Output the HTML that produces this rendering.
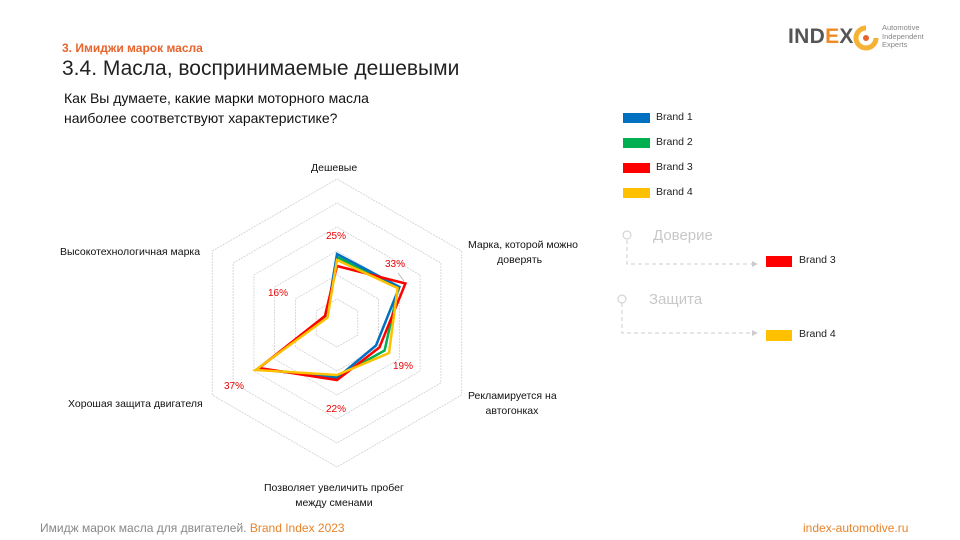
<!DOCTYPE html>
<html><head><meta charset="utf-8"><style>
body{margin:0;width:960px;height:540px;background:#fff;font-family:"Liberation Sans","DejaVu Sans",sans-serif;position:relative;overflow:hidden}
.a{position:absolute;white-space:nowrap}
.l{font-size:10.5px;color:#111}
</style></head><body>
<div class="a" style="left:62px;top:41px;font-size:12px;color:#e8642c;font-weight:bold">3. Имиджи марок масла</div>
<div class="a" style="left:62px;top:57px;font-size:21px;color:#222">3.4. Масла, воспринимаемые дешевыми</div>
<div class="a" style="left:64px;top:88px;font-size:14px;color:#111;line-height:20px">Как Вы думаете, какие марки моторного масла<br>наиболее соответствуют характеристике?</div>
<div class="a" style="left:788px;top:25px;font-size:21px;font-weight:bold;color:#555;letter-spacing:0.3px">IND<span style="color:#f08a24">E</span>X</div>
<svg class="a" style="left:853px;top:25px" width="26" height="26" viewBox="0 0 26 26"><path d="M13 3 A10 10 0 1 0 23 13" fill="none" stroke="#f5b335" stroke-width="5"/><circle cx="13" cy="13" r="3" fill="#e8642c"/></svg>
<div class="a" style="left:882px;top:24px;font-size:7.5px;color:#888;line-height:8.5px">Automotive<br>Independent<br>Experts</div>

<svg class="a" style="left:0;top:0" width="960" height="540">
<g transform="translate(337,323)" fill="none" stroke="#d0d0d0" stroke-width="0.8" stroke-dasharray="2,1">
<polygon points="0,-24 20.8,-12 20.8,12 0,24 -20.8,12 -20.8,-12"/>
<polygon points="0,-48 41.6,-24 41.6,24 0,48 -41.6,24 -41.6,-24"/>
<polygon points="0,-72 62.4,-36 62.4,36 0,72 -62.4,36 -62.4,-36"/>
<polygon points="0,-96 83.1,-48 83.1,48 0,96 -83.1,48 -83.1,-48"/>
<polygon points="0,-120 103.9,-60 103.9,60 0,120 -103.9,60 -103.9,-60"/>
<polygon points="0,-144 124.7,-72 124.7,72 0,144 -124.7,72 -124.7,-72"/>
</g>
<g fill="none" stroke-width="2.5" stroke-linejoin="miter">
<polygon stroke="#00b050" points="337,257 398.5,287.5 384.6,350.5 337,377 257.3,369 326.6,317"/>
<polygon stroke="#0070c0" points="337,254 399.4,287 376,345.5 337,378 257.3,369 326.6,317"/>
<polygon stroke="#ff0000" points="337,266 405.4,283.5 379.4,347.5 337,380 259,368 324.9,316"/>
<polygon stroke="#ffc000" points="337,260 397.6,288 389,353 337,375 255.6,370 327.5,317.5"/>
</g>
<line x1="398" y1="273" x2="404" y2="281" stroke="#aaa" stroke-width="0.7"/>
<g fill="none" stroke="#ccc" stroke-dasharray="4,3"><path d="M627 240 V264 H752"/><path d="M622 303 V333 H752"/></g>
<circle cx="627" cy="235" r="4" fill="#fff" stroke="#ccc"/><circle cx="622" cy="299" r="4" fill="#fff" stroke="#ccc"/>
<polygon points="752,261 758,264 752,267" fill="#ccc"/><polygon points="752,330 758,333 752,336" fill="#ccc"/>
</svg>
<div class="a" style="left:326px;top:231px;font-size:10px;color:#e00">25%</div>
<div class="a" style="left:385px;top:259px;font-size:10px;color:#e00">33%</div>
<div class="a" style="left:393px;top:361px;font-size:10px;color:#e00">19%</div>
<div class="a" style="left:326px;top:404px;font-size:10px;color:#e00">22%</div>
<div class="a" style="left:224px;top:381px;font-size:10px;color:#e00">37%</div>
<div class="a" style="left:268px;top:288px;font-size:10px;color:#e00">16%</div>

<div class="a l" style="left:311px;top:162px">Дешевые</div>
<div class="a l" style="left:468px;top:238px;line-height:15px">Марка, которой можно<br>&nbsp; &nbsp; &nbsp; &nbsp; &nbsp; доверять</div>
<div class="a l" style="left:468px;top:389px;line-height:15px">Рекламируется на<br>&nbsp; &nbsp; &nbsp; автогонках</div>
<div class="a l" style="left:264px;top:481px;line-height:15px;text-align:center">Позволяет увеличить пробег<br>между сменами</div>
<div class="a l" style="left:68px;top:398px">Хорошая защита двигателя</div>
<div class="a l" style="left:60px;top:246px">Высокотехнологичная марка</div>

<div class="a" style="left:623px;top:113px;width:27px;height:10px;background:#0070c0"></div><div class="a" style="left:656px;top:111px;font-size:10.5px;color:#222">Brand 1</div>
<div class="a" style="left:623px;top:138px;width:27px;height:10px;background:#00b050"></div><div class="a" style="left:656px;top:136px;font-size:10.5px;color:#222">Brand 2</div>
<div class="a" style="left:623px;top:163px;width:27px;height:10px;background:#ff0000"></div><div class="a" style="left:656px;top:161px;font-size:10.5px;color:#222">Brand 3</div>
<div class="a" style="left:623px;top:188px;width:27px;height:10px;background:#ffc000"></div><div class="a" style="left:656px;top:186px;font-size:10.5px;color:#222">Brand 4</div>

<div class="a" style="left:653px;top:227px;font-size:15px;color:#c8c8c8">Доверие</div>
<div class="a" style="left:649px;top:291px;font-size:15px;color:#c8c8c8">Защита</div>
<div class="a" style="left:766px;top:256px;width:26px;height:11px;background:#ff0000"></div><div class="a" style="left:799px;top:254px;font-size:10.5px;color:#222">Brand 3</div>
<div class="a" style="left:766px;top:330px;width:26px;height:11px;background:#ffc000"></div><div class="a" style="left:799px;top:328px;font-size:10.5px;color:#222">Brand 4</div>

<div class="a" style="left:40px;top:521px;font-size:12px;color:#888">Имидж марок масла для двигателей. <span style="color:#e8842c">Brand Index 2023</span></div>
<div class="a" style="left:803px;top:521px;font-size:12px;color:#e8842c">index-automotive.ru</div>
</body></html>
